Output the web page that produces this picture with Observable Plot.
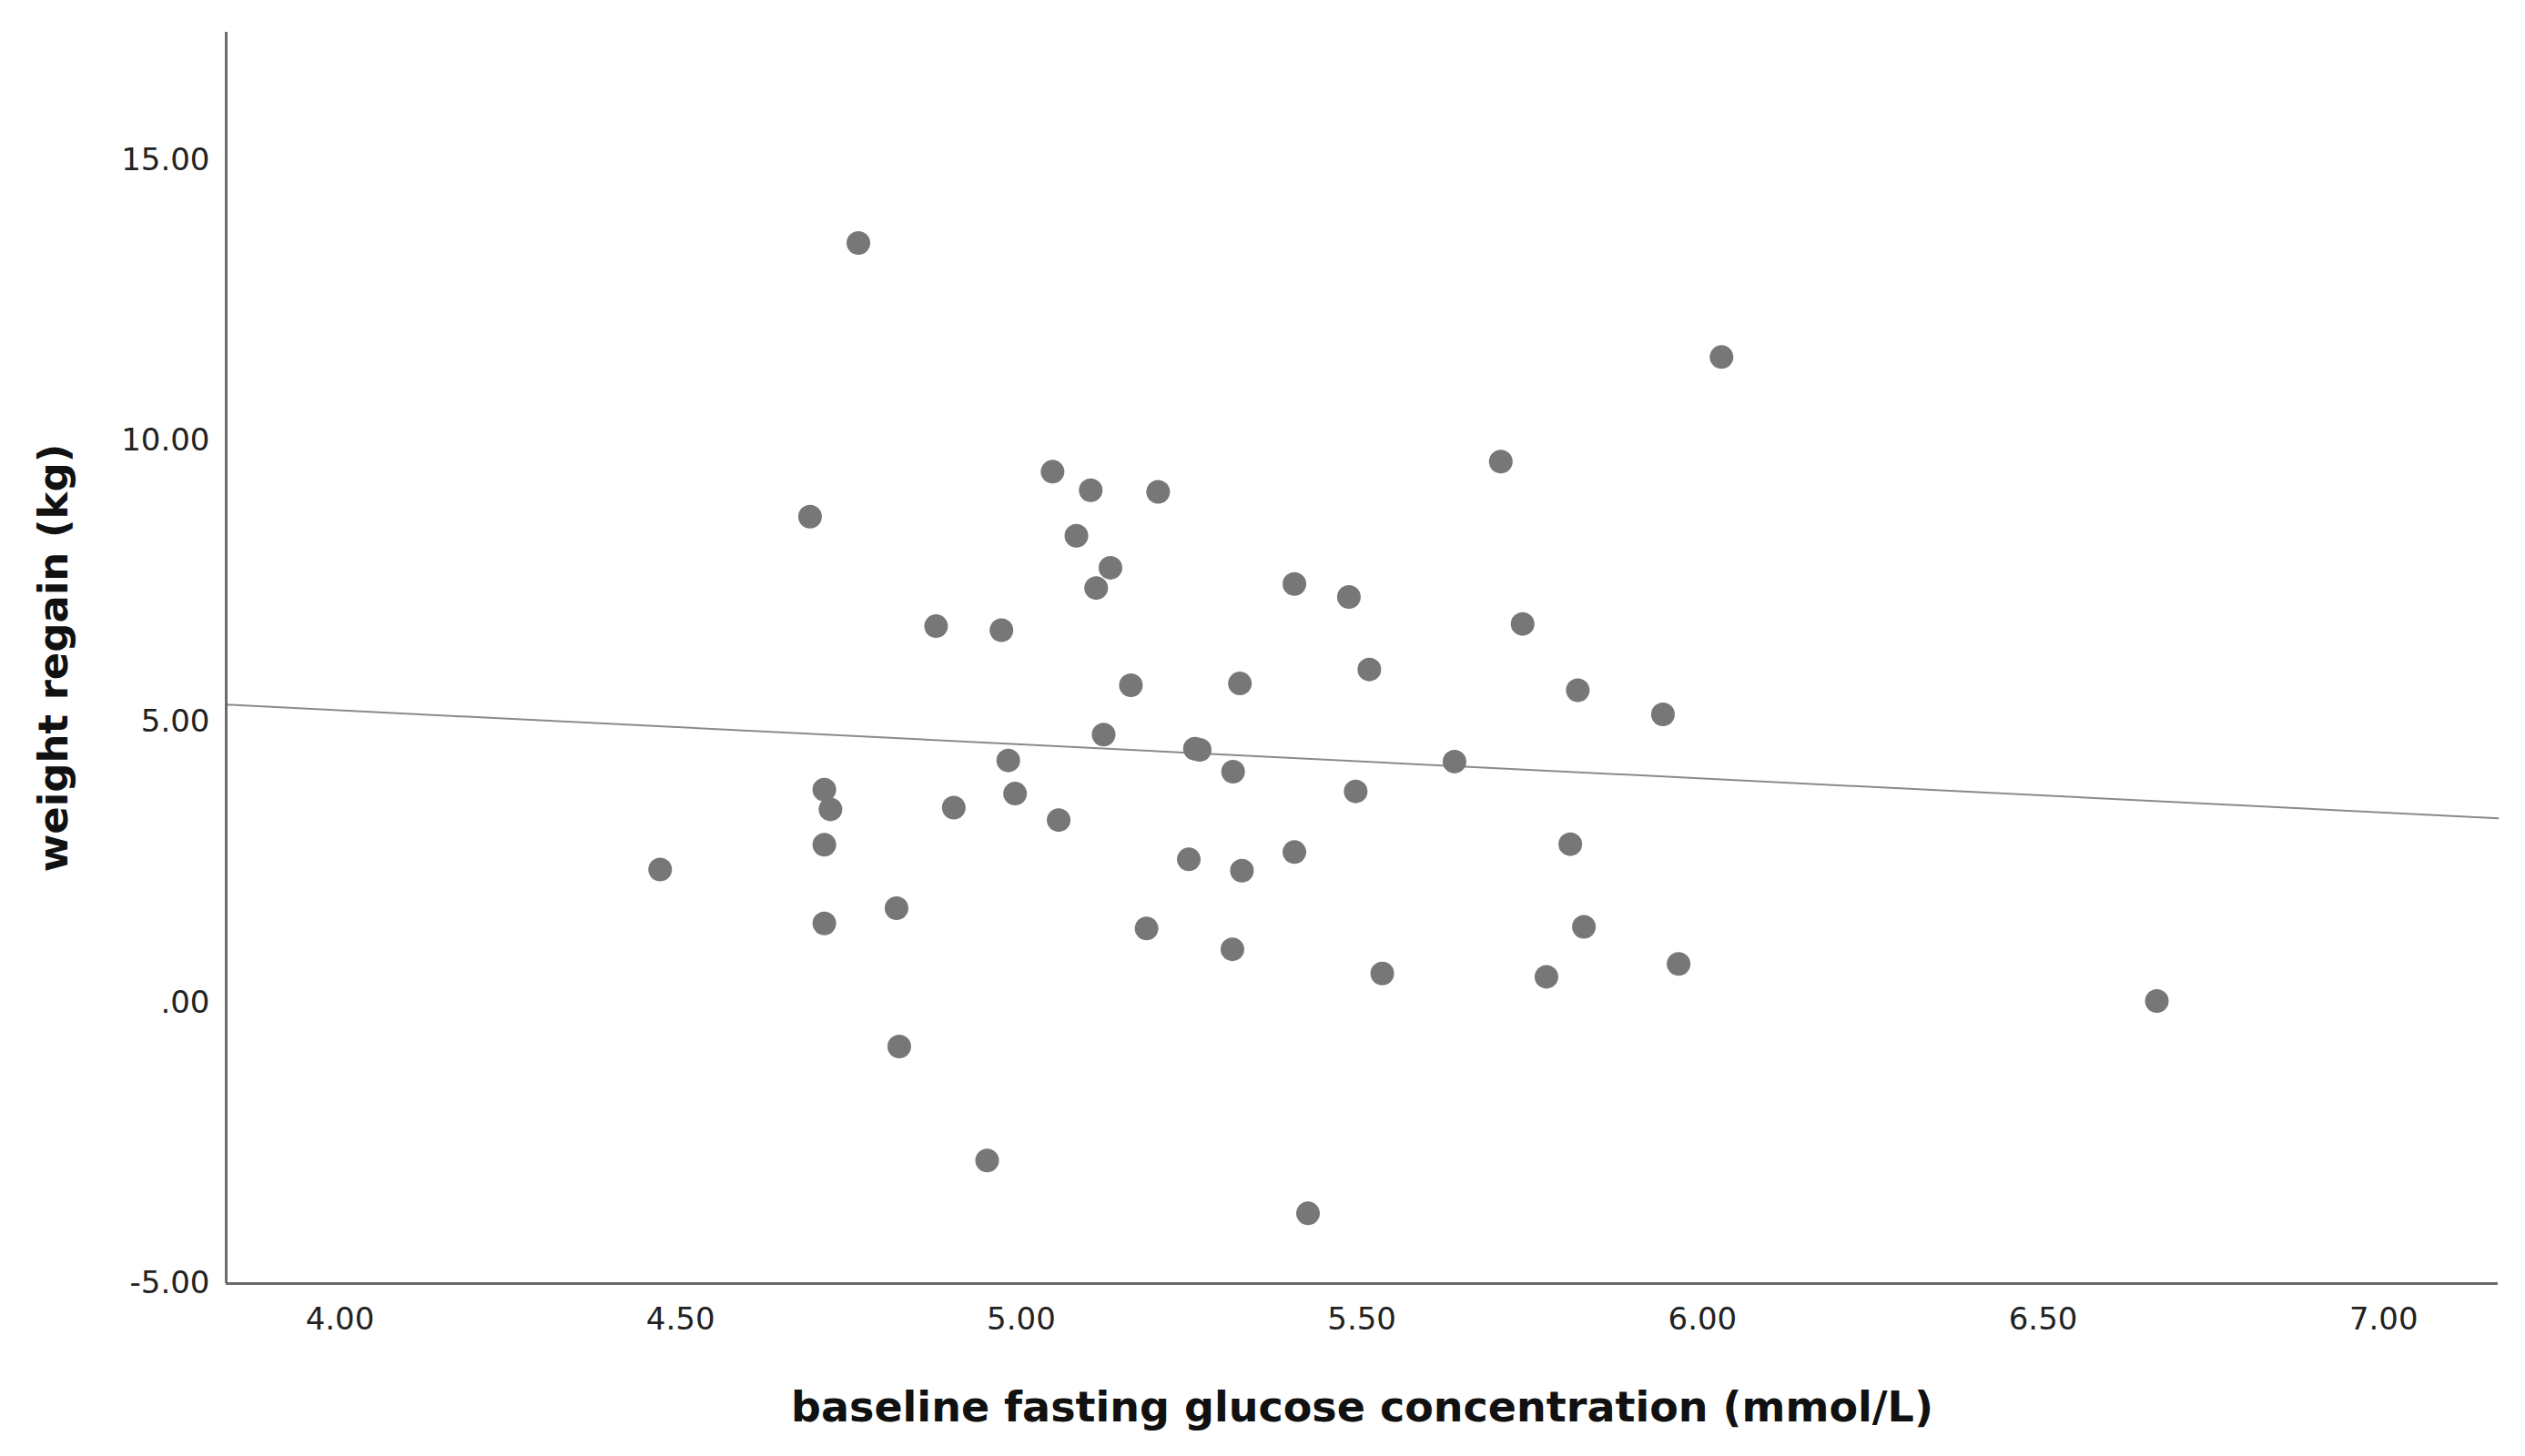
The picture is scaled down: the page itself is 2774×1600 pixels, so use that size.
<!DOCTYPE html>
<html>
<head>
<meta charset="utf-8">
<script src="https://cdn.jsdelivr.net/npm/d3@7"></script>
<script src="https://cdn.jsdelivr.net/npm/@observablehq/plot@0.6"></script>
<style>
  html, body { margin: 0; padding: 0; background: #ffffff; }
  #chart svg { display: block; }
</style>
</head>
<body>
<div id="chart"></div>
<script>
// Baseline fasting glucose (mmol/L)
const glucose = [
  4.470, 4.761, 4.690, 4.711, 4.720, 4.711, 4.711, 4.817, 4.821, 4.875,
  4.901, 4.950, 4.971, 4.981, 4.991, 5.046, 5.055, 5.081, 5.102, 5.110,
  5.131, 5.121, 5.161, 5.184, 5.201, 5.246, 5.255, 5.262, 5.311, 5.310,
  5.321, 5.324, 5.401, 5.401, 5.421, 5.481, 5.491, 5.511, 5.530, 5.636,
  5.704, 5.736, 5.771, 5.806, 5.817, 5.826, 5.942, 5.965, 6.028, 6.667
];
// Weight regain (kg)
const regain = [
  2.37, 13.52, 8.65, 3.79, 3.44, 2.81, 1.41, 1.68, -0.78, 6.70,
  3.47, -2.81, 6.63, 4.31, 3.72, 9.45, 3.25, 8.31, 9.12, 7.38,
  7.74, 4.77, 5.65, 1.32, 9.09, 2.55, 4.52, 4.50, 4.11, 0.95,
  5.68, 2.35, 7.45, 2.68, -3.75, 7.22, 3.76, 5.93, 0.52, 4.29,
  9.63, 6.74, 0.46, 2.82, 5.56, 1.35, 5.13, 0.69, 11.49, 0.03
];

const xTicks = [4, 4.5, 5, 5.5, 6, 6.5, 7];
const yTicks = [-5, 0, 5, 10, 15];
const xDomain = [3.833, 7.168];
const yDomain = [-5, 17.27];
const xTitle = "baseline fasting glucose concentration (mmol/L)";
const yTitle = "weight regain (kg)";

const points = glucose.map((g, i) => ({x: g, y: regain[i]}));

// Least-squares fit line (drawn across the whole x range, as in the reference)
const mx = d3.mean(glucose), my = d3.mean(regain);
const sxy = d3.sum(points, p => (p.x - mx) * (p.y - my));
const sxx = d3.sum(points, p => (p.x - mx) ** 2);
const slope = sxy / sxx;
const intercept = my - slope * mx;
const fitLine = xDomain.map(x => ({x, y: intercept + slope * x}));

const fmt = d => d3.format(".2f")(d).replace(/^0\./, ".").replace("\u2212", "-");

const plot = Plot.plot({
  width: 2774,
  height: 1600,
  marginLeft: 248,
  marginRight: 30,
  marginTop: 35,
  marginBottom: 190,
  style: {fontFamily: "'DejaVu Sans', sans-serif", fontSize: "34px", color: "#222", background: "#ffffff"},
  x: {domain: xDomain},
  y: {domain: yDomain},
  marks: [
    Plot.axisX({ticks: xTicks, tickFormat: fmt, tickSize: 0, tickPadding: 26, label: null, fontSize: 34, fill: "#222"}),
    Plot.axisY({ticks: yTicks, tickFormat: fmt, tickSize: 0, tickPadding: 18, label: null, fontSize: 34, fill: "#222"}),
    Plot.line(fitLine, {x: "x", y: "y", stroke: "#8a8a8a", strokeWidth: 2}),
    Plot.ruleX([xDomain[0]], {stroke: "#6a6a6a", strokeWidth: 3}),
    Plot.ruleY([yDomain[0]], {stroke: "#6a6a6a", strokeWidth: 3}),
    Plot.dot(points, {x: "x", y: "y", r: 13, fill: "#777777", stroke: null}),
    Plot.text([yTitle], {text: d => d, frameAnchor: "left", dx: -175, rotate: -90, lineAnchor: "bottom", textAnchor: "middle", fontWeight: "bold", fontSize: 45, fill: "#111"}),
    Plot.text([xTitle], {text: d => d, frameAnchor: "bottom", dy: 151, lineAnchor: "bottom", textAnchor: "middle", fontWeight: "bold", fontSize: 46, fill: "#111"})
  ]
});
document.getElementById("chart").appendChild(plot);
</script>
</body>
</html>
